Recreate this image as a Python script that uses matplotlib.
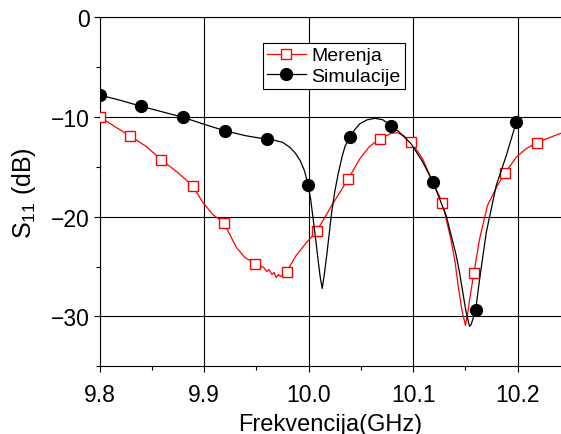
import matplotlib
matplotlib.use("Agg")
import matplotlib.pyplot as plt
from matplotlib.lines import Line2D

plt.rcParams['font.family'] = ['Liberation Sans', 'DejaVu Sans']
plt.rcParams['mathtext.default'] = 'regular'

mer_f = [9.800, 9.815, 9.829, 9.845, 9.859, 9.875, 9.889, 9.899, 9.908, 9.919,
         9.931, 9.939, 9.949, 9.957, 9.960, 9.962, 9.965, 9.967, 9.969, 9.971,
         9.973, 9.979, 9.988, 9.998, 10.008, 10.022, 10.038, 10.049, 10.058, 10.068,
         10.079, 10.085, 10.091, 10.098, 10.109, 10.119, 10.128, 10.136, 10.140, 10.143,
         10.1465, 10.150, 10.152, 10.154, 10.158, 10.1635, 10.171, 10.180, 10.188, 10.199,
         10.208, 10.218, 10.230, 10.245]
mer_s11 = [-10.0, -11.0, -11.9, -13.0, -14.3, -15.6, -16.9, -18.6, -19.75, -20.65,
           -23.1, -24.1, -24.7, -25.1, -25.5, -25.3, -25.8, -25.6, -26.1, -25.8,
           -26.0, -25.5, -23.9, -22.6, -21.4, -18.9, -16.2, -14.2, -13.0, -12.2,
           -11.66, -11.6, -11.9, -12.5, -14.2, -16.6, -18.6, -22.25, -24.5, -26.9,
           -29.3, -30.9, -29.8, -28.3, -25.7, -22.25, -18.9, -17.0, -15.6, -14.0,
           -13.2, -12.6, -12.1, -11.5]
mer_mark_f = [9.800, 9.829, 9.859, 9.889, 9.919, 9.949, 9.979, 10.008, 10.038, 10.068,
              10.098, 10.128, 10.158, 10.188, 10.218]
mer_mark_s11 = [-10.0, -11.9, -14.3, -16.9, -20.65, -24.7, -25.5, -21.4, -16.2, -12.2,
                -12.5, -18.6, -25.7, -15.6, -12.6]

# simulated curve (Simulacije)
sim_f = [9.800, 9.820, 9.840, 9.860, 9.880, 9.900, 9.920, 9.940, 9.960, 9.967,
         9.975, 9.982, 9.987, 9.992, 9.996, 9.9995, 10.002, 10.0043, 10.007, 10.009,
         10.011, 10.013, 10.015, 10.0173, 10.022, 10.025, 10.0285, 10.032, 10.035, 10.0396,
         10.044, 10.049, 10.056, 10.0635, 10.071, 10.079, 10.087, 10.098, 10.109, 10.1188,
         10.1316, 10.1412, 10.1445, 10.1475, 10.1505, 10.1539, 10.1555, 10.157, 10.1597, 10.1635,
         10.1699, 10.1794, 10.189, 10.1986]
sim_s11 = [-7.8, -8.35, -8.95, -9.5, -10.05, -10.75, -11.4, -11.9, -12.25, -12.35,
           -12.55, -13.05, -13.6, -14.4, -15.4, -16.8, -18.3, -20.2, -22.5, -24.3,
           -26.0, -27.2, -25.8, -23.9, -19.6, -17.5, -15.6, -14.0, -12.9, -12.06,
           -11.3, -10.7, -10.3, -10.15, -10.3, -10.9, -11.56, -12.7, -14.5, -16.5,
           -19.9, -23.9, -25.7, -27.6, -29.5, -31.0, -30.8, -30.3, -29.4, -26.3,
           -21.6, -16.9, -13.9, -10.55]
sim_mark_f = [9.80, 9.84, 9.88, 9.92, 9.96, 9.9995, 10.0396, 10.079, 10.1188, 10.1597, 10.1986]
sim_mark_s11 = [-7.8, -8.95, -10.05, -11.4, -12.25, -16.8, -12.06, -10.9, -16.5, -29.4, -10.55]

fig = plt.figure(figsize=(5.61, 4.35), dpi=100)
ax = fig.add_axes([0.1774, 0.1556, 1.0 - 0.1774, 0.9586 - 0.1556])

red = '#ff0000'
ax.plot(mer_f, mer_s11, color=red, lw=0.9, zorder=3)
ax.plot(mer_mark_f, mer_mark_s11, ls='none', marker='s', ms=7.2,
        mfc='white', mec=red, mew=1.0, zorder=4)
ax.plot(sim_f, sim_s11, color='black', lw=0.9, zorder=5)
ax.plot(sim_mark_f, sim_mark_s11, ls='none', marker='o', ms=8.5,
        color='black', zorder=6)

ax.set_xlim(9.8, 10.2414)
ax.set_ylim(-35, 0)
ax.set_xticks([9.8, 9.9, 10.0, 10.1, 10.2])
ax.set_xticklabels(['9.8', '9.9', '10.0', '10.1', '10.2'])
ax.set_xticks([9.85, 9.95, 10.05, 10.15], minor=True)
ax.set_yticks([0, -10, -20, -30])
ax.set_yticks([-5, -15, -25, -35], minor=True)
ax.tick_params(which='major', direction='out', length=4.3, width=0.8,
               labelsize=16.5)
ax.tick_params(axis='x', which='major', pad=8)
ax.tick_params(axis='y', which='major', pad=3)
ax.tick_params(which='minor', direction='out', length=2.9, width=0.8)
ax.grid(True, which='major', color='black', lw=0.8)
ax.set_axisbelow(True)
ax.spines['right'].set_visible(False)
for s in ['left', 'bottom', 'top']:
    ax.spines[s].set_linewidth(0.8)

ax.set_xlabel('Frekvencija(GHz)', fontsize=17, labelpad=5)
ax.set_ylabel('S$_{11}$ (dB)', fontsize=18, labelpad=9)

handles = [
    Line2D([], [], color=red, lw=0.9, marker='s', ms=7.2, mfc='white', mec=red, mew=1.0),
    Line2D([], [], color='black', lw=0.9, marker='o', ms=8.5),
]
leg = ax.legend(handles, ['Merenja', 'Simulacije'], loc='upper left',
                bbox_to_anchor=(0.354, 0.926), borderaxespad=0, fontsize=14,
                frameon=True, fancybox=False, edgecolor='black', framealpha=1,
                handlelength=2.0, handletextpad=0.3, labelspacing=0.15,
                borderpad=0.2)
leg.get_frame().set_linewidth(0.8)

fig.savefig('out.png', dpi=100)
